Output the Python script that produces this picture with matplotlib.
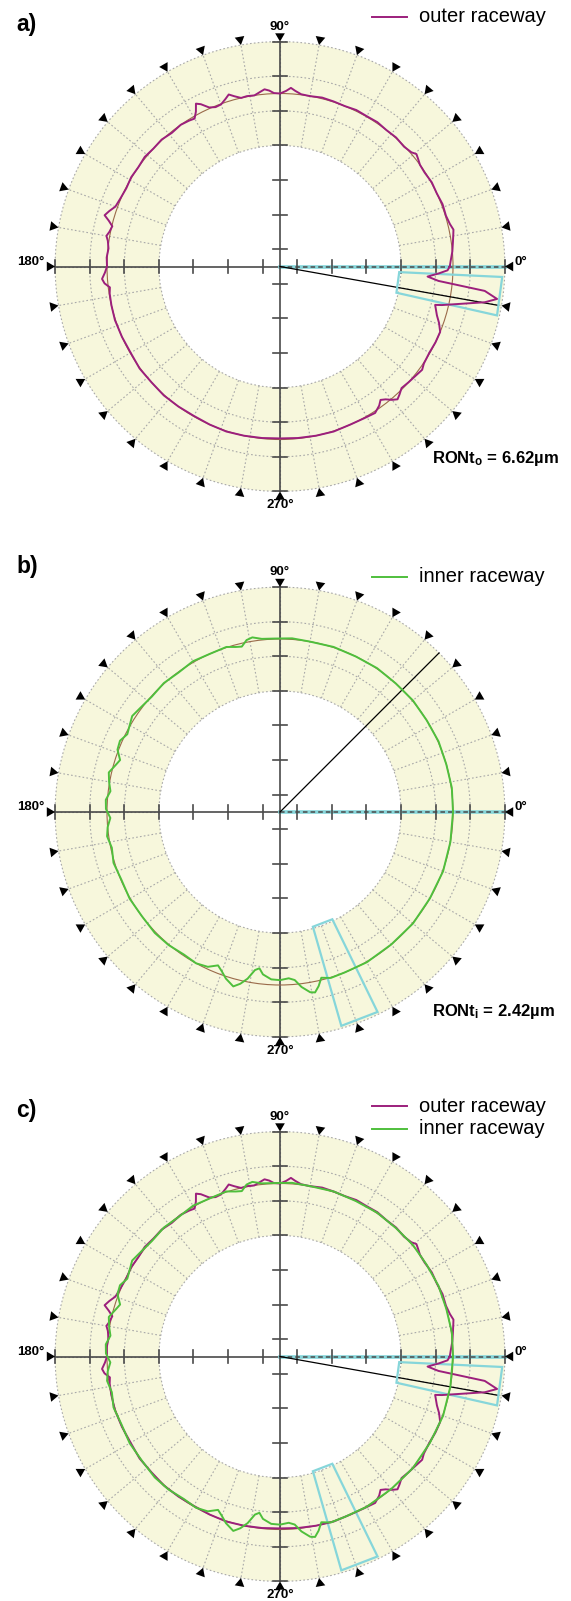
import numpy as np
import matplotlib.pyplot as plt
from matplotlib.patches import Wedge, Circle, Polygon

plt.rcParams['font.family'] = ['Liberation Sans', 'DejaVu Sans']
plt.rcParams['mathtext.fontset'] = 'custom'
plt.rcParams['mathtext.bf'] = 'Liberation Sans:bold'
plt.rcParams['mathtext.rm'] = 'Liberation Sans'

# roundness profiles: angle (deg) and radial deviation from the reference circle (µm)
outer_ang = [0, 2, 5, 8, 10.5, 12, 14, 17, 21, 25, 29, 33, 36, 38, 39.5, 41, 44, 48, 52, 56,
             60, 64, 68, 72, 76, 80, 83, 85, 86.5, 88, 90, 92, 93.5, 95, 96.5, 98.5, 101, 103,
             105, 106.6, 108, 110, 112, 114, 116, 117.3, 118.5, 120, 122, 125, 129, 133, 137,
             141, 145, 149, 153, 157, 160, 162, 163.7, 165, 166.5, 168.5, 170, 171.5, 174,
             177, 180, 182, 184, 185.5, 187, 189, 193, 198, 204, 210, 216, 222, 228, 234, 240,
             246, 252, 258, 264, 270, 276, 282, 288, 294, 299, 303, 305.5, 307, 308.5, 310,
             311.5, 313, 315, 318, 321, 324, 326, 330, 334, 337.8, 340.5, 342.7, 346.1, 346.6,
             350.1, 351.5, 353.2, 354.8, 356.1, 357.5, 358.7]
outer_dev = [-0.3, -0.2, 0.0, 0.15, 0.3, 0.4, 0.2, 0.05, 0.1, 0.0, 0.05, -0.05, 0.0, 0.2,
             0.35, 0.1, -0.05, 0.05, 0.0, 0.1, 0.05, 0.1, 0.0, 0.05, 0.1, 0.0, 0.05, 0.3, 0.55,
             0.25, 0.0, 0.05, 0.3, 0.45, 0.25, 0.0, 0.05, 0.0, 0.3, 0.6, 0.3, -0.05, -0.1, 0.1,
             0.7, 0.95, 0.3, -0.2, -0.1, 0.0, -0.1, 0.05, 0.0, 0.1, 0.0, 0.05, -0.05, 0.05, 0.2,
             0.6, 0.9, 0.4, -0.05, 0.1, 0.3, 0.1, -0.05, 0.05, 0.0, 0.2, 0.5, 0.3, -0.15, -0.05,
             0.0, 0.05, 0.0, -0.05, 0.05, 0.0, 0.05, 0.0, -0.05, 0.0, 0.05, 0.0, -0.05, -0.1,
             -0.05, 0.0, 0.05, 0.0, 0.05, 0.15, -0.2, -0.55, -0.3, 0.1, 0.4, 0.2, -0.1, 0.0, 0.1,
             0.25, 0.05, -0.05, 0.0, 0.0, -0.4, -0.8, -1.22, -0.61, 3.23, 4.30, 3.07, -1.28,
             -2.32, -1.3, -0.5]

inner_ang = [0, 8, 16, 24, 32, 40, 48, 56, 64, 72, 80, 86, 92, 96, 99, 101, 103, 105, 108,
             114, 120, 126, 132, 138, 143, 147, 150, 153, 156, 159, 162, 164, 167, 170, 173,
             176, 179, 182, 185, 188, 192, 197, 203, 210, 217, 224, 230, 236, 241, 245, 248,
             250, 252, 255, 257, 259, 261, 262.5, 264, 267, 270, 273, 275, 277, 279.5, 281,
             282.5, 284, 287, 292, 300, 310, 320, 330, 340, 350]
inner_dev = [0.0, 0.05, 0.0, 0.05, 0.0, 0.05, 0.0, 0.05, 0.0, 0.05, 0.0, 0.1, 0.05, 0.1, 0.35,
             0.2, -0.3, -0.2, 0.05, 0.0, 0.1, -0.05, 0.05, -0.05, 0.1, 0.3, 0.05, -0.15, 0.2,
             0.1, -0.45, -0.2, 0.25, 0.05, -0.2, 0.15, 0.1, -0.3, 0.0, 0.15, -0.1, 0.1, -0.05,
             0.05, 0.0, 0.1, 0.05, -0.1, 0.0, -0.2, -0.7, -0.3, 0.2, 0.7, 0.3, -0.3, -1.2,
             -1.42, -0.9, -0.5, -0.45, -0.6, -0.4, 0.3, 0.9, 1.0, 0.5, -0.2, 0.05, 0.0, 0.05,
             0.0, 0.05, 0.0, 0.05, 0.0]

# evaluated sectors (deg) and the direction lines drawn from the centre
outer_sector = (-12.7, -2.7)
inner_sector = (-74.0, -64.0)
outer_line_dir = -10.1
inner_line_dir = 45.0

UM_PER_DIV = 3.2      # µm per grid division
R_REF = 5.0           # radius of the reference circle in divisions
RINGS = [3.5, 4.5, 5.5, 6.5]
MARK_ANGLES = np.arange(0, 360, 10)
TICKS = np.arange(0.5, 7.0, 1.0)

PURPLE = '#9c1f7c'
GREEN = '#4fbf3c'
BROWN = '#9a6a4a'
CYAN = '#86d6da'
YELLOW = '#f7f7dc'
GRID = '#a8a8a8'
AXIS = '#4a4a4a'

U = 34.6              # pixels per division
W, H = 571, 1601
HALF = 272

fig = plt.figure(figsize=(W / 100, H / 100), dpi=100)


def make_ax(cx, cy):
    ax = fig.add_axes([0, 1 - (cy + HALF) / H, 1, 2 * HALF / H])
    ax.set_xlim(-cx / U, (W - cx) / U)
    ax.set_ylim(-HALF / U, HALF / U)
    ax.axis('off')
    return ax


def px(cx, cy, x, y):
    return (x - cx) / U, (cy - y) / U


def profile_xy(ang, dev):
    a = np.radians(np.append(ang, ang[0]))
    r = R_REF + np.append(dev, dev[0]) / UM_PER_DIV
    return r * np.cos(a), r * np.sin(a)


def sector(ax, a1, a2, r1=3.45, r2=6.43):
    t1, t2 = np.radians(a1), np.radians(a2)
    pts = [(r1 * np.cos(t1), r1 * np.sin(t1)), (r2 * np.cos(t1), r2 * np.sin(t1)),
           (r2 * np.cos(t2), r2 * np.sin(t2)), (r1 * np.cos(t2), r1 * np.sin(t2))]
    ax.add_patch(Polygon(pts, closed=True, fill=False, edgecolor=CYAN, lw=1.6, zorder=6))


def frame(ax):
    ax.add_patch(Wedge((0, 0), RINGS[-1], 0, 360, width=RINGS[-1] - RINGS[0],
                       facecolor=YELLOW, edgecolor='none', zorder=0))
    for r in RINGS:
        ax.add_patch(Circle((0, 0), r, fill=False, ls=(0, (1.5, 2)), color=GRID, lw=0.8, zorder=1))
    for a in np.radians(MARK_ANGLES):
        ax.plot([RINGS[0] * np.cos(a), RINGS[-1] * np.cos(a)],
                [RINGS[0] * np.sin(a), RINGS[-1] * np.sin(a)],
                ls=(0, (1.5, 2)), color=GRID, lw=0.8, zorder=1)
    # cross with ticks; the 0° half-axis is drawn dashed over cyan
    ax.plot([-6.5, 0], [0, 0], color=AXIS, lw=1.2, zorder=3)
    ax.plot([0, 6.5], [0, 0], color=CYAN, lw=2.6, zorder=3)
    ax.plot([0, 6.5], [0, 0], color=AXIS, lw=1.1, ls=(0, (3, 2)), zorder=3)
    ax.plot([0, 0], [-6.5, 6.5], color=AXIS, lw=1.2, zorder=3)
    for t in np.concatenate([-TICKS, TICKS]):
        ax.plot([t, t], [-0.19, 0.19], color=AXIS, lw=1.2, zorder=3)
        ax.plot([-0.21, 0.21], [t, t], color=AXIS, lw=1.2, zorder=3)
    # angle markers pointing to the centre
    h, w = 0.24, 0.28
    for a in np.radians(MARK_ANGLES):
        c, s = np.cos(a), np.sin(a)
        tip = (6.5 * c, 6.5 * s)
        bx, by = (6.5 + h) * c, (6.5 + h) * s
        pts = [tip, (bx - s * w / 2, by + c * w / 2), (bx + s * w / 2, by - c * w / 2)]
        ax.add_patch(Polygon(pts, closed=True, facecolor='black', edgecolor='none', zorder=4))
    kw = dict(fontsize=9.5, fontweight='bold', zorder=5)
    ax.text(0, 6.93, '90°', ha='center', va='center', **kw)
    ax.text(0, -6.9, '270°', ha='center', va='center', **kw)
    ax.text(-6.82, 0.14, '180°', ha='right', va='center', **kw)
    ax.text(6.79, 0.14, '0°', ha='left', va='center', **kw)
    ax.add_patch(Circle((0, 0), R_REF, fill=False, color=BROWN, lw=0.8, zorder=5))


def legend(ax, cx, cy, rows):
    for y, label, col in rows:
        x0, yy = px(cx, cy, 372, y)
        x1, _ = px(cx, cy, 407, y)
        xt, _ = px(cx, cy, 419, y)
        ax.plot([x0, x1], [yy, yy], color=col, lw=1.4)
        ax.text(xt, yy, label, fontsize=14.5, ha='left', va='center')


def ron_label(ax, cx, cy, y, sub, dev):
    x, yy = px(cx, cy, 432, y)
    ron = max(dev) - min(dev)
    ax.text(x, yy, r'$\mathbf{RONt_%s}$' % sub + ' = %.2fµm' % ron,
            fontsize=12, fontweight='bold', ha='left', va='center')


def direction(ax, deg, r=6.4):
    a = np.radians(deg)
    ax.plot([0, r * np.cos(a)], [0, r * np.sin(a)], color='black', lw=0.9, zorder=6)


ox, oy = profile_xy(outer_ang, outer_dev)
ix, iy = profile_xy(inner_ang, inner_dev)

# a) outer raceway
cx, cy = 280, 266.5
ax = make_ax(cx, cy)
frame(ax)
ax.plot(ox, oy, color=PURPLE, lw=1.4, zorder=7, solid_joinstyle='round')
direction(ax, outer_line_dir)
sector(ax, *outer_sector)
legend(ax, cx, cy, [(16.5, 'outer raceway', PURPLE)])
ron_label(ax, cx, cy, 458, 'o', outer_dev)
ax.text(*px(cx, cy, 16, 24), 'a)', fontsize=16.5, fontweight='bold', ha='left', va='center')

# b) inner raceway
cx, cy = 280, 812
ax = make_ax(cx, cy)
frame(ax)
ax.plot(ix, iy, color=GREEN, lw=1.4, zorder=7, solid_joinstyle='round')
direction(ax, inner_line_dir, 6.5)
sector(ax, *inner_sector)
legend(ax, cx, cy, [(577, 'inner raceway', GREEN)])
ron_label(ax, cx, cy, 1011, 'i', inner_dev)
ax.text(*px(cx, cy, 16, 566), 'b)', fontsize=16.5, fontweight='bold', ha='left', va='center')

# c) both raceways
cx, cy = 280, 1356.5
ax = make_ax(cx, cy)
frame(ax)
ax.plot(ox, oy, color=PURPLE, lw=1.4, zorder=7, solid_joinstyle='round')
ax.plot(ix, iy, color=GREEN, lw=1.4, zorder=7, solid_joinstyle='round')
direction(ax, outer_line_dir)
sector(ax, *outer_sector)
sector(ax, *inner_sector)
legend(ax, cx, cy, [(1106, 'outer raceway', PURPLE), (1129, 'inner raceway', GREEN)])
ax.text(*px(cx, cy, 16, 1111), 'c)', fontsize=16.5, fontweight='bold', ha='left', va='center')

fig.savefig('out.png', dpi=100, facecolor='white')
